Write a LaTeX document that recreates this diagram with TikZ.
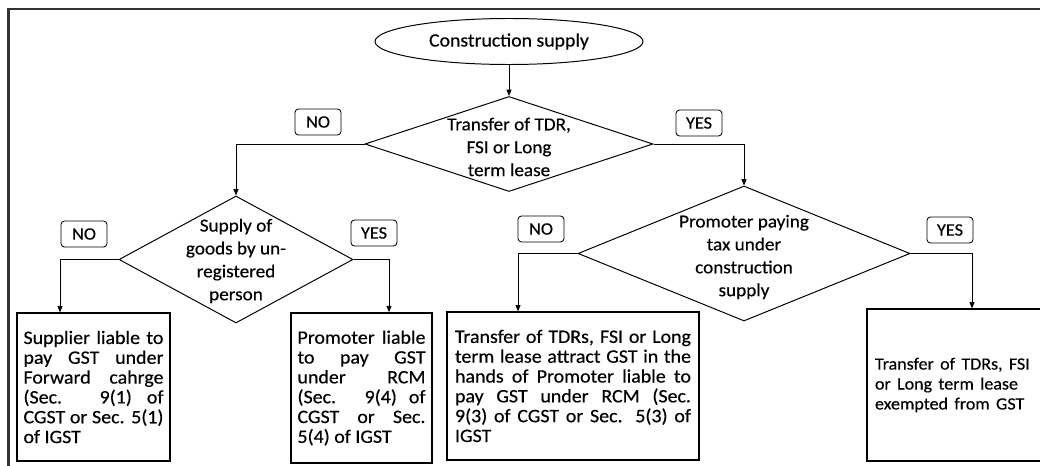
\documentclass[tikz,border=0pt]{standalone}
\usepackage{fontspec}
\setmainfont{Carlito}[FakeStretch=1.05,FakeBold=0.4]
\usetikzlibrary{shapes.geometric,arrows.meta}
\begin{document}
\begin{tikzpicture}[x=0.25mm,y=-0.25mm,line width=0.7pt,
  arr/.style={-{Triangle[length=4.5pt,width=3.5pt]}},
  dia/.style={diamond,draw,inner sep=0pt},
  dtext/.style={align=center,font=\fontsize{13}{16.3}\selectfont},
  box/.style={draw,rectangle,inner sep=0pt,line width=0.8pt,align=justify,font=\fontsize{13.5}{14.1}\selectfont},
  tag/.style={draw,rounded corners=2.5pt,line width=0.6pt,minimum width=11.5mm,minimum height=6.5mm,inner sep=0pt,font=\fontsize{12.4}{12}\selectfont}]
\useasboundingbox (0,0) rectangle (1040,465);
\clip (0,0) rectangle (1040,465);
\draw[line width=2pt,black!80] (8.5,9) rectangle (1060,480);

\node[draw,ellipse,minimum width=67mm,minimum height=11.5mm,inner sep=0pt,font=\fontsize{13.4}{13}\selectfont] (start) at (509,41.5) {Construction supply};

\node[dia,minimum width=72mm,minimum height=23.75mm] (d1) at (509,144) {};
\node[dtext] (d1t) at (509,147) {Transfer of TDR,\\FSI or Long\\term lease};
\node[dia,minimum width=58.5mm,minimum height=31.75mm] (d2) at (236,259.5) {};
\node[dtext] (d2t) at (236,261) {Supply of\\goods by un-\\registered\\person};
\node[dia,minimum width=83mm,minimum height=33.75mm] (d3) at (744,253.5) {};
\node[dtext] (d3t) at (744,257) {Promoter paying\\tax under\\construction\\supply};

\node[tag] (no1) at (318,122) {NO};
\node[tag] (yes1) at (699,123) {YES};
\node[tag] (no2) at (84,234) {NO};
\node[tag] (yes2) at (374,233) {YES};
\node[tag] (no3) at (541,229) {NO};
\node[tag] (yes3) at (950,230) {YES};

\node[box,text width=35mm,minimum width=38.25mm,minimum height=37mm] (b1) at (93.5,387)
  {\tolerance=10000 Supplier liable to\linebreak pay GST under\linebreak Forward cahrge\linebreak (Sec. 9(1) of\linebreak CGST or Sec. 5(1)\linebreak of IGST};
\node[box,line width=1.1pt,text width=32mm,minimum width=35.25mm,minimum height=37.5mm] (b2) at (361.5,388)
  {\tolerance=10000 Promoter liable\linebreak to pay GST\linebreak under RCM\linebreak (Sec. 9(4) of\linebreak CGST or Sec.\linebreak 5(4) of IGST};
\node[box,text width=59mm,minimum width=63mm,minimum height=37mm] (b3) at (573,386)
  {\tolerance=10000 Transfer of TDRs, FSI or Long\linebreak term lease attract GST in the\linebreak hands of Promoter liable to\linebreak pay GST under RCM (Sec.\linebreak 9(3) of CGST or Sec. 5(3) of\linebreak IGST};
\node[box,align=left,text width=48.5mm,minimum width=52.5mm,minimum height=38mm] (b4) at (972,385)
  {\parbox{41mm}{\fontsize{12.2}{14.2}\selectfont\tolerance=10000 Transfer of TDRs, FSI\linebreak or Long term lease\linebreak exempted from GST}};

\draw[arr] (start) -- (d1);
\draw[arr] (d1.west) -| (d2.north);
\draw[arr] (d1.east) -| (d3.north);
\draw[arr] (d2.west) -| ([shift={(-33.5,0)}]b1.north);
\draw[arr] (d2.east) -| ([shift={(27.5,0)}]b2.north);
\draw[arr] (d3.west) -| ([shift={(-55,0)}]b3.north);
\draw[arr] (d3.east) -| (b4.north);
\end{tikzpicture}
\end{document}
